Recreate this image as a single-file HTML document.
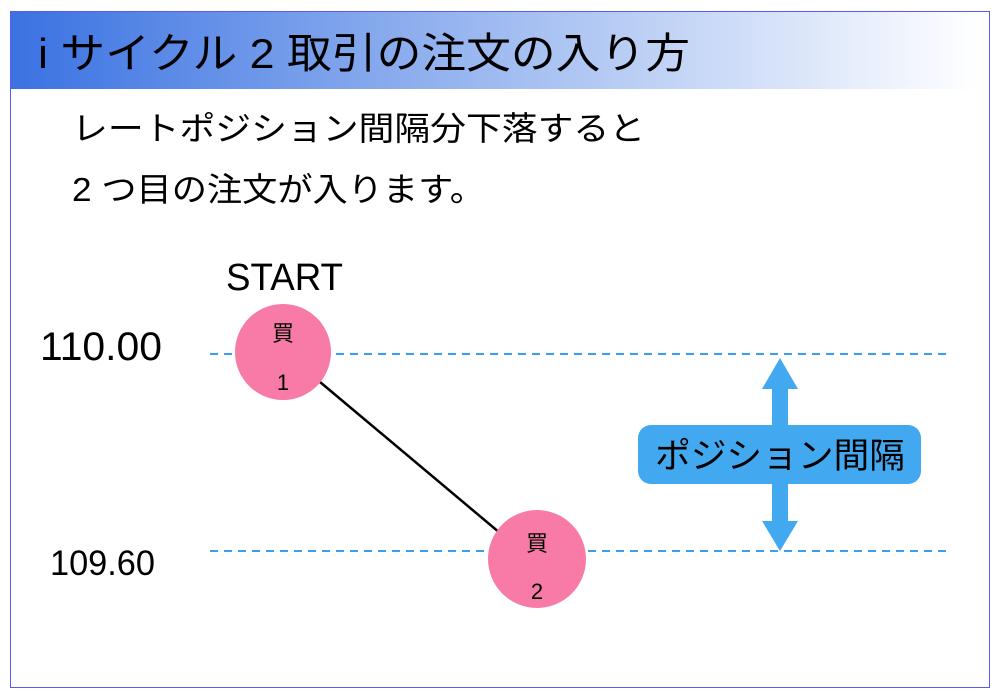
<!DOCTYPE html>
<html><head><meta charset="utf-8"><style>
body{margin:0;width:1000px;height:700px;background:#fff;overflow:hidden;font-family:"Liberation Sans","Noto Sans CJK JP",sans-serif;}
</style></head><body>
<svg width="1000" height="700" xmlns="http://www.w3.org/2000/svg" style="position:absolute;left:0;top:0">
<defs><linearGradient id="g" x1="0" x2="1"><stop offset="0" stop-color="#3a72e2"/><stop offset="0.55" stop-color="#a9c2f2"/><stop offset="1" stop-color="#ffffff"/></linearGradient></defs>
<rect x="10.5" y="11.5" width="979" height="676" fill="#fff" stroke="#5a5af0" stroke-width="1"/>
<rect x="11" y="12" width="970" height="77" fill="url(#g)"/>
<g font-family="'Liberation Sans','Noto Sans CJK JP',sans-serif" fill="#000">
<text x="38" y="68" font-size="42" textLength="652" lengthAdjust="spacingAndGlyphs">i サイクル 2 取引の注文の入り方</text>
<text x="72" y="140" font-size="33" textLength="573" lengthAdjust="spacingAndGlyphs">レートポジション間隔分下落すると</text>
<text x="72" y="201" font-size="33" textLength="413" lengthAdjust="spacingAndGlyphs">2 つ目の注文が入ります。</text>
<text x="226" y="290" font-size="38" textLength="117" lengthAdjust="spacingAndGlyphs">START</text>
<text x="40" y="360" font-size="40" textLength="122" lengthAdjust="spacingAndGlyphs">110.00</text>
<text x="50" y="575" font-size="35" textLength="105" lengthAdjust="spacingAndGlyphs">109.60</text>
</g>
<line x1="210" y1="354" x2="948" y2="354" stroke="#3aa0ee" stroke-width="2" stroke-dasharray="8,6"/>
<line x1="210" y1="551" x2="948" y2="551" stroke="#3aa0ee" stroke-width="2" stroke-dasharray="8,6"/>
<line x1="320" y1="382" x2="500" y2="533" stroke="#000" stroke-width="2.5"/>
<circle cx="283" cy="352" r="48" fill="#f87aa6"/>
<circle cx="537" cy="559" r="49" fill="#f87aa6"/>
<g font-family="'Liberation Sans','Noto Sans CJK JP',sans-serif" font-size="22" fill="#000" text-anchor="middle">
<text x="283" y="341">買</text><text x="283" y="390">1</text>
<text x="537" y="551">買</text><text x="537" y="599">2</text>
</g>
<polygon points="780,358 798,389 788,389 788,521 798,521 780,551 762,521 772,521 772,389 762,389" fill="#42a9f1"/>
<rect x="638" y="425" width="283" height="59" rx="13" fill="#42a9f1"/>
<text x="655" y="468" font-size="35" textLength="250" lengthAdjust="spacingAndGlyphs" font-family="'Liberation Sans','Noto Sans CJK JP',sans-serif" fill="#000">ポジション間隔</text>
</svg>
</body></html>
